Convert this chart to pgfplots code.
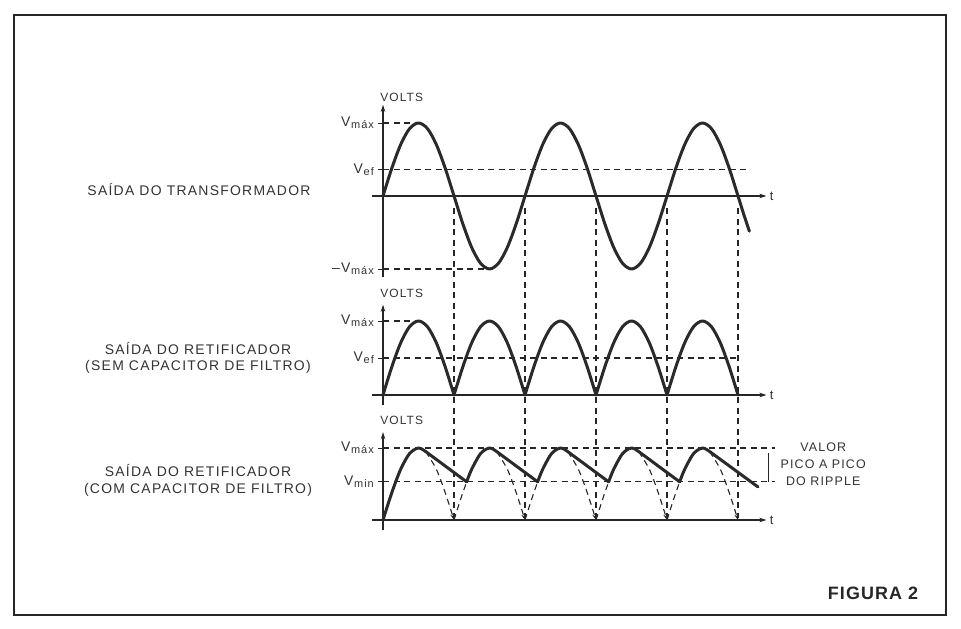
\documentclass[border=0pt]{standalone}
\usepackage{pgfplots}
\pgfplotsset{compat=1.18}
\usetikzlibrary{arrows.meta}
\usepackage{fontspec}
\setmainfont{Liberation Sans}
\newfontfamily\lblfont[LetterSpace=9]{Liberation Sans}
\newfontfamily\figfont[LetterSpace=6]{Liberation Sans}
\definecolor{ink}{HTML}{262626}
\definecolor{txt}{HTML}{333333}
\definecolor{curve}{HTML}{2A2A2A}
\newcommand\vlab[1]{V\kern0.8bp\raisebox{-1.8bp}{\fontsize{11}{11}\selectfont #1}}
\pgfplotsset{
  wave/.style={
    axis lines=middle, clip=false, x=71bp, anchor=south west,
    enlargelimits=false, xtick=\empty,
    xmin=-0.155, xmax=5.4,
    axis line style={line width=1.1bp, draw=ink, -{Stealth[length=7bp,width=4.5bp]}},
    tick align=center, major tick length=11bp,
    tick style={line width=0.9bp, draw=ink},
    yticklabel style={font=\fontsize{14}{14}\lblfont, text=txt, inner sep=1.5bp, xshift=-2bp},
    no markers,
  },
  crv/.style={line width=3bp, draw=curve, line join=round, line cap=round},
  dsh/.style={line width=1.1bp, draw=ink, dash pattern=on 6bp off 4.5bp},
}
\begin{document}
\begin{tikzpicture}[x=1bp,y=1bp]
\path (0,0) rectangle (961,629);
\draw[line width=1.8bp, ink] (14,14) rectangle (946,614);

\node[font=\fontsize{14}{16}\lblfont, text=txt] at (199,439) {SAÍDA DO TRANSFORMADOR};
\node[font=\fontsize{14}{16}\lblfont, text=txt, align=center] at (198,271) {SAÍDA DO RETIFICADOR\\(SEM CAPACITOR DE FILTRO)};
\node[font=\fontsize{14}{17}\lblfont, text=txt, align=center] at (198,149) {SAÍDA DO RETIFICADOR\\(COM CAPACITOR DE FILTRO)};
\node[font=\fontsize{18}{18}\figfont\bfseries, text=ink] at (873,36) {FIGURA 2};

% ---------- Plot 1: transformer output ----------
\begin{axis}[wave, at={(372.0bp,351.97bp)}, y=73bp, ymin=-1.11, ymax=1.25,
  ytick={-1,0.36,1}, yticklabels={{–\vlab{máx}},{\vlab{ef}},{\vlab{máx}}}]
\addplot[dsh] coordinates {(1,-0.17) (1,-4.41)};
\addplot[dsh] coordinates {(2,-0.17) (2,-4.41)};
\addplot[dsh] coordinates {(3,-0.17) (3,-4.41)};
\addplot[dsh] coordinates {(4,-0.17) (4,-4.41)};
\addplot[dsh] coordinates {(5,-0.17) (5,-4.41)};
\addplot[dsh] coordinates {(0,1) (0.5,1)};
\addplot[dsh] coordinates {(0,-1) (1.45,-1)};
\addplot[dsh] coordinates {(0,0.36) (5.15,0.36)};
\addplot[crv, smooth] coordinates {
(0,0) (0.125,0.383) (0.25,0.707) (0.375,0.924) (0.5,1) (0.625,0.924) (0.75,0.707) (0.875,0.383)
(1,0) (1.125,-0.383) (1.25,-0.707) (1.375,-0.924) (1.5,-1) (1.625,-0.924) (1.75,-0.707) (1.875,-0.383)
(2,0) (2.125,0.383) (2.25,0.707) (2.375,0.924) (2.5,1) (2.625,0.924) (2.75,0.707) (2.875,0.383)
(3,0) (3.125,-0.383) (3.25,-0.707) (3.375,-0.924) (3.5,-1) (3.625,-0.924) (3.75,-0.707) (3.875,-0.383)
(4,0) (4.125,0.383) (4.25,0.707) (4.375,0.924) (4.5,1) (4.625,0.924) (4.75,0.707) (4.875,0.383)
(5,0) (5.08,-0.249) (5.16,-0.482)};
\node[anchor=base west, font=\fontsize{12}{12}\lblfont, text=txt, inner sep=0pt] at (axis cs:-0.04,1.29) {VOLTS};
\node[anchor=west, font=\fontsize{13}{13}\lblfont, text=txt] at (axis cs:5.4,0) {t};
\end{axis}

% ---------- Plot 2: rectifier without capacitor ----------
\begin{axis}[wave, at={(372.0bp,224.38bp)}, y=74bp, ymin=-0.13, ymax=1.22,
  ytick={0.5,1}, yticklabels={{\vlab{ef}},{\vlab{máx}}}]
\addplot[dsh] coordinates {(0,1) (0.5,1)};
\addplot[dsh] coordinates {(0,0.5) (5,0.5)};
\addplot[crv, smooth] coordinates {
(0,0) (0.125,0.383) (0.25,0.707) (0.375,0.924) (0.5,1) (0.625,0.924) (0.75,0.707) (0.875,0.383) (1,0)};
\addplot[crv, smooth] coordinates {
(1,0) (1.125,0.383) (1.25,0.707) (1.375,0.924) (1.5,1) (1.625,0.924) (1.75,0.707) (1.875,0.383) (2,0)};
\addplot[crv, smooth] coordinates {
(2,0) (2.125,0.383) (2.25,0.707) (2.375,0.924) (2.5,1) (2.625,0.924) (2.75,0.707) (2.875,0.383) (3,0)};
\addplot[crv, smooth] coordinates {
(3,0) (3.125,0.383) (3.25,0.707) (3.375,0.924) (3.5,1) (3.625,0.924) (3.75,0.707) (3.875,0.383) (4,0)};
\addplot[crv, smooth] coordinates {
(4,0) (4.125,0.383) (4.25,0.707) (4.375,0.924) (4.5,1) (4.625,0.924) (4.75,0.707) (4.875,0.383) (5,0)};
\node[anchor=base west, font=\fontsize{12}{12}\lblfont, text=txt, inner sep=0pt] at (axis cs:-0.04,1.32) {VOLTS};
\node[anchor=west, font=\fontsize{13}{13}\lblfont, text=txt] at (axis cs:5.4,0) {t};
\end{axis}

% ---------- Plot 3: rectifier with capacitor ----------
\begin{axis}[wave, at={(372.0bp,98.92bp)}, y=72bp, ymin=-0.14, ymax=1.22,
  ytick={0.53,1}, yticklabels={{\vlab{min}},{\vlab{máx}}}]
\addplot[dsh] coordinates {(0,1) (5.52,1)};
\addplot[dsh] coordinates {(0,0.53) (5.52,0.53)};
% dashed continuation of rectified wave
\addplot[dsh, smooth, -{Stealth[length=6bp,width=4bp]}] coordinates {(0.6,0.951) (0.75,0.707) (0.875,0.383) (1,0)};
\addplot[dsh, smooth] coordinates {(1,0) (1.09,0.279) (1.178,0.53)};
\addplot[dsh, smooth, -{Stealth[length=6bp,width=4bp]}] coordinates {(1.6,0.951) (1.75,0.707) (1.875,0.383) (2,0)};
\addplot[dsh, smooth] coordinates {(2,0) (2.09,0.279) (2.178,0.53)};
\addplot[dsh, smooth, -{Stealth[length=6bp,width=4bp]}] coordinates {(2.6,0.951) (2.75,0.707) (2.875,0.383) (3,0)};
\addplot[dsh, smooth] coordinates {(3,0) (3.09,0.279) (3.178,0.53)};
\addplot[dsh, smooth, -{Stealth[length=6bp,width=4bp]}] coordinates {(3.6,0.951) (3.75,0.707) (3.875,0.383) (4,0)};
\addplot[dsh, smooth] coordinates {(4,0) (4.09,0.279) (4.178,0.53)};
\addplot[dsh, smooth, -{Stealth[length=6bp,width=4bp]}] coordinates {(4.6,0.951) (4.75,0.707) (4.875,0.383) (5,0)};
% solid filtered output
\addplot[crv, smooth] coordinates {(0,0) (0.125,0.383) (0.25,0.707) (0.375,0.924) (0.5,1) (0.6,0.951)};
\addplot[crv] coordinates {(0.6,0.951) (1.178,0.53)};
\addplot[crv, smooth] coordinates {(1.178,0.53) (1.25,0.707) (1.375,0.924) (1.5,1) (1.6,0.951)};
\addplot[crv] coordinates {(1.6,0.951) (2.178,0.53)};
\addplot[crv, smooth] coordinates {(2.178,0.53) (2.25,0.707) (2.375,0.924) (2.5,1) (2.6,0.951)};
\addplot[crv] coordinates {(2.6,0.951) (3.178,0.53)};
\addplot[crv, smooth] coordinates {(3.178,0.53) (3.25,0.707) (3.375,0.924) (3.5,1) (3.6,0.951)};
\addplot[crv] coordinates {(3.6,0.951) (4.178,0.53)};
\addplot[crv, smooth] coordinates {(4.178,0.53) (4.25,0.707) (4.375,0.924) (4.5,1) (4.6,0.951)};
\addplot[crv] coordinates {(4.6,0.951) (5.28,0.46)};
% ripple bracket
\addplot[line width=1.1bp, draw=ink] coordinates {(5.43,0.93) (5.43,0.53)};
\node[align=center, font=\fontsize{12.5}{17}\lblfont, text=txt] at (axis cs:6.2,0.78) {VALOR\\PICO A PICO\\DO RIPPLE};
\node[anchor=base west, font=\fontsize{12}{12}\lblfont, text=txt, inner sep=0pt] at (axis cs:-0.04,1.32) {VOLTS};
\node[anchor=west, font=\fontsize{13}{13}\lblfont, text=txt] at (axis cs:5.4,0) {t};
\end{axis}
\end{tikzpicture}
\end{document}
